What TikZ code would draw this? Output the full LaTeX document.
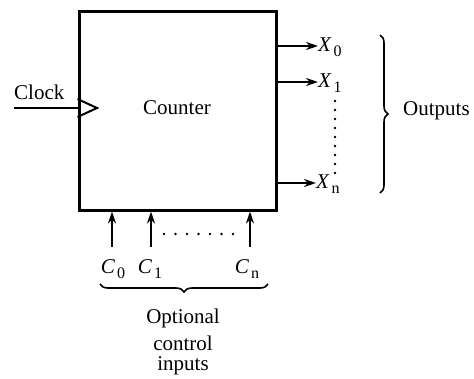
\documentclass[tikz,border=0pt]{standalone}
\usepackage{fontspec}
\setmainfont{Liberation Serif}
\usetikzlibrary{arrows.meta,decorations.pathreplacing}
\newcommand\mysig[2]{\textit{#1}\kern2pt\raisebox{-0.5ex}{\fontsize{16}{18}\selectfont #2}}
\begin{document}
\begin{tikzpicture}[x=1pt,y=-1pt,
  every node/.style={font=\fontsize{21}{25}\selectfont, inner sep=0pt},
  boxstyle/.style={draw, line width=3pt, minimum width=197pt, minimum height=199pt},
  sigline/.style={line width=2pt, -{Stealth[length=12pt,width=8pt]}},
  mybrace/.style={line width=1.6pt, decorate, decoration={brace, amplitude=8pt}}]
\useasboundingbox (0,0) rectangle (474,378);
\node[boxstyle] (box) at (177.5,110.5) {};
\node (cnt) at (177,108) {Counter};
\node[anchor=south west] (clk) at (14,100) {Clock};
\coordinate (clkin) at (14,108);
\draw[line width=2pt] (clkin) -- (box.west |- clkin);
\draw[line width=2pt] (box.west |- 0,99) -- (97,108) -- (box.west |- 0,117);
% outputs
\node[anchor=west] (x0) at (318,47) {\mysig{X}{0}};
\node[anchor=west] (x1) at (318,83) {\mysig{X}{1}};
\node[anchor=west] (xn) at (316,184) {\mysig{X}{n}};
\draw[sigline] (box.east |- 0,46) -- (x0.west |- 0,46);
\draw[sigline] (box.east |- 0,82) -- (x1.west |- 0,82);
\draw[sigline] (box.east |- 0,183) -- (xn.west |- 0,183);
\foreach \y in {101,110,...,173} \fill (335,\y) circle (1.3pt);
\coordinate (bt) at (380,35);
\coordinate (bb) at (380,193);
\draw[mybrace] (bt) -- (bb);
\node[anchor=west] (outs) at (403,111) {Outputs};
% control inputs
\node (c0) at (113,269) {\mysig{C}{0}};
\node (c1) at (150,269) {\mysig{C}{1}};
\node (cn) at (247,269) {\mysig{C}{n}};
\draw[sigline] (112,247) -- (box.south -| 112,0);
\draw[sigline] (151,247) -- (box.south -| 151,0);
\draw[sigline] (250,247) -- (box.south -| 250,0);
\foreach \x in {164,175.5,...,234} \fill (\x,234) circle (1.3pt);
\coordinate (bl) at (268,284);
\coordinate (br) at (100,284);
\draw[mybrace] (bl) -- (br);
\node (opt) at (183,318) {Optional};
\node (ctl) at (183,343) {control};
\node (inp) at (183,366) {inputs};
\end{tikzpicture}
\end{document}
